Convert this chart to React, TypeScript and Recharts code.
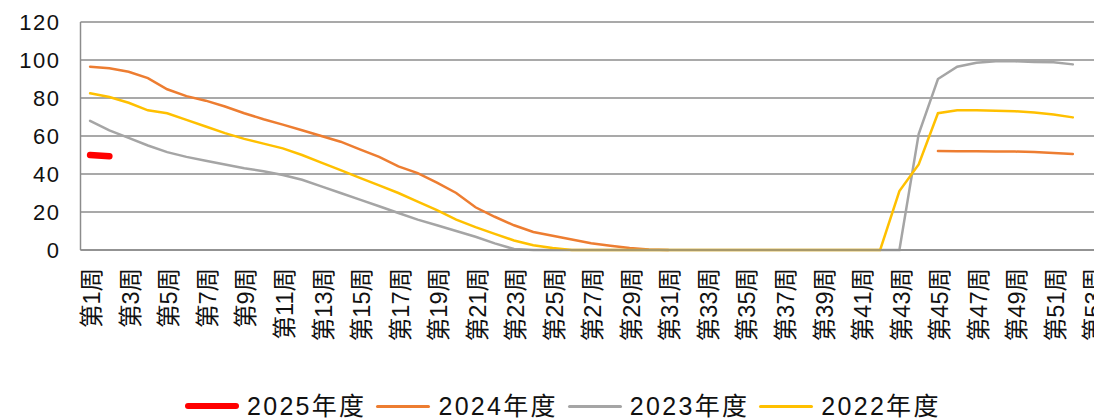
import { CartesianGrid, Line, LineChart, XAxis, YAxis } from "recharts";

const weeks = Array.from({ length: 53 }, (_, i) => `第${i + 1}周`);

const y2025: (number | null)[] = [50, 49.3];

const y2024: (number | null)[] = [
  96.5, 95.6, 93.8, 90.5, 84.6, 81, 78.6, 75.5, 72, 68.8,
  66, 63, 60, 57, 53, 49, 44, 40.5, 35.5, 30,
  22.5, 17.5, 13, 9.5, 7.5, 5.5, 3.5, 2.2, 1, 0.3,
  0, null, null, null, null, null, null, null, null, null,
  null, null, null, null, 52.1, 52, 52, 51.9, 51.8, 51.6,
  51.1, 50.5, null,
];

const y2023: (number | null)[] = [
  68, 63, 59, 55, 51.5, 49, 47, 45, 43, 41.5,
  39.5, 37, 33.5, 30, 26.5, 23, 19.5, 16, 13, 10,
  7, 3.5, 0.5, 0, 0, 0, 0, 0, 0, 0,
  0, 0, 0, 0, 0, 0, 0, 0, 0, 0,
  0, 0, 0, 61, 90, 96.5, 98.5, 99.3, 99.3, 99,
  98.8, 97.7, null,
];

const y2022: (number | null)[] = [
  82.5, 80.5, 77.5, 73.5, 72, 68.5, 65, 61.5, 58.5, 56,
  53.5, 50, 46, 42, 38, 34, 30, 25.5, 21, 16,
  12, 8.5, 5, 2.5, 1, 0, 0, 0, 0, 0,
  0, 0, 0, 0, 0, 0, 0, 0, 0, 0,
  0, 0, 31, 45, 72, 73.5, 73.5, 73.3, 73, 72.4,
  71.3, 69.8, null,
];

const yTicks = [0, 20, 40, 60, 80, 100, 120];

const series = [
  { key: "y2025", name: "2025年度", color: "#FF0000", width: 6.5 },
  { key: "y2024", name: "2024年度", color: "#ED7D31", width: 2.5 },
  { key: "y2023", name: "2023年度", color: "#A5A5A5", width: 2.5 },
  { key: "y2022", name: "2022年度", color: "#FFC000", width: 2.5 },
];

const data = weeks.map((week, i) => ({
  week,
  y2025: y2025[i] ?? null,
  y2024: y2024[i],
  y2023: y2023[i],
  y2022: y2022[i],
}));

function WeekTick({ x, y, payload }: any) {
  return (
    <text
      transform={`translate(${x + 2},${y + 18}) rotate(-90)`}
      textAnchor="end"
      dy="0.35em"
      fontSize={23.5}
      fontFamily="'Liberation Sans', 'Noto Sans CJK SC', sans-serif"
      fill="#111"
    >
      {payload.value}
    </text>
  );
}

export default function App() {
  return (
    <div style={{ position: "absolute", left: 0, top: 0, width: 1094, height: 419, overflow: "hidden", background: "#fff" }}>
      <LineChart
        width={1120}
        height={419}
        data={data}
        margin={{ top: 22, right: 18.3, left: 0, bottom: 0 }}
      >
        <CartesianGrid vertical={false} stroke="#8c8c8c" strokeWidth={1.5} />
        <XAxis
          dataKey="week"
          interval={1}
          padding={{ left: 9.6, right: 9.6 }}
          tickLine={false}
          tickSize={0}
          tickMargin={0}
          axisLine={{ stroke: "#8c8c8c", strokeWidth: 1.5 }}
          height={169}
          tick={<WeekTick />}
        />
        <YAxis
          domain={[0, 120]}
          ticks={yTicks}
          width={80.5}
          tickLine={false}
          tickSize={0}
          tickMargin={20}
          axisLine={{ stroke: "#8c8c8c", strokeWidth: 1.5 }}
          tick={{ fontSize: 22, fill: "#111", fontFamily: "'Liberation Sans', sans-serif", letterSpacing: 1.5 }}
        />
        {series.map((s) => (
          <Line
            key={s.key}
            dataKey={s.key}
            name={s.name}
            stroke={s.color}
            strokeWidth={s.width}
            strokeLinecap="round"
            dot={false}
            activeDot={false}
            type="linear"
            isAnimationActive={false}
          />
        ))}
      </LineChart>
      <div
        style={{
          position: "absolute",
          left: 185,
          top: 392,
          display: "flex",
          alignItems: "center",
          fontFamily: "'Liberation Sans', 'Noto Sans CJK SC', sans-serif",
          fontSize: 25,
          color: "#111",
          letterSpacing: 2.3,
          lineHeight: "28px",
        }}
      >
        {series.map((s) => (
          <div key={s.key} style={{ display: "flex", alignItems: "center", marginRight: 10 }}>
            <span
              style={{
                display: "inline-block",
                width: 54,
                height: s.key === "y2025" ? 6 : 3,
                borderRadius: 3,
                background: s.color,
                marginRight: 8,
              }}
            />
            <span>{s.name}</span>
          </div>
        ))}
      </div>
    </div>
  );
}
